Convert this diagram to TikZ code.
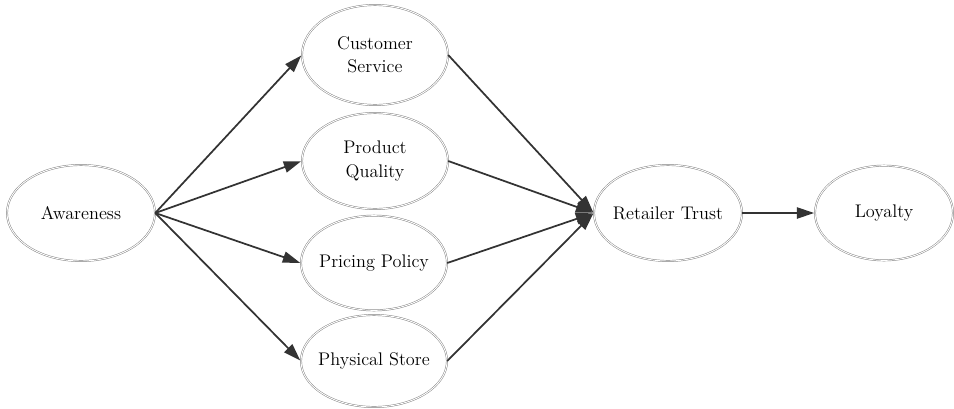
\documentclass[tikz,border=0pt]{standalone}
\usetikzlibrary{arrows.meta,shapes.geometric}
\begin{document}
\begin{tikzpicture}[x=0.75pt,y=-0.75pt,
  ell/.style={ellipse,draw=black!50,double=white,double distance=0.7pt,line width=0.35pt,
    minimum width=109.5pt,minimum height=72pt,inner ysep=0pt,inner xsep=-6pt,align=center,
    font=\fontsize{13.7}{17.5}\selectfont,text=black},
  arr/.style={draw=black!80,line width=1.3pt,-{Triangle[length=13pt,width=8.5pt]},shorten >=0.5pt}]
\useasboundingbox (0,0) rectangle (954,408);
\node[ell,minimum width=111pt] (aw) at (81,213) {Awareness};
\node[ell,minimum height=75pt] (cs) at (375,55) {Customer\\Service};
\node[ell] (pq) at (375,161) {Product\\Quality};
\node[ell,minimum height=71pt] (pp) at (374,263) {Pricing Policy};
\node[ell,minimum height=69pt] (ps) at (374,361) {Physical Store};
\node[ell,minimum width=111pt] (rt) at (668,213) {Retailer Trust};
\node[ell,minimum width=103.5pt,minimum height=71pt] (lo) at (884,213) {Loyalty};
\draw[arr] (aw.east) -- (cs.west);
\draw[arr] (aw.east) -- (pq.west);
\draw[arr] (aw.east) -- (pp.west);
\draw[arr] (aw.east) -- (ps.west);
\draw[arr] (cs.east) -- (rt.west);
\draw[arr] (pq.east) -- (rt.west);
\draw[arr] (pp.east) -- (rt.west);
\draw[arr] (ps.east) -- (rt.west);
\draw[arr] (rt.east) -- (lo.west);
\end{tikzpicture}
\end{document}
